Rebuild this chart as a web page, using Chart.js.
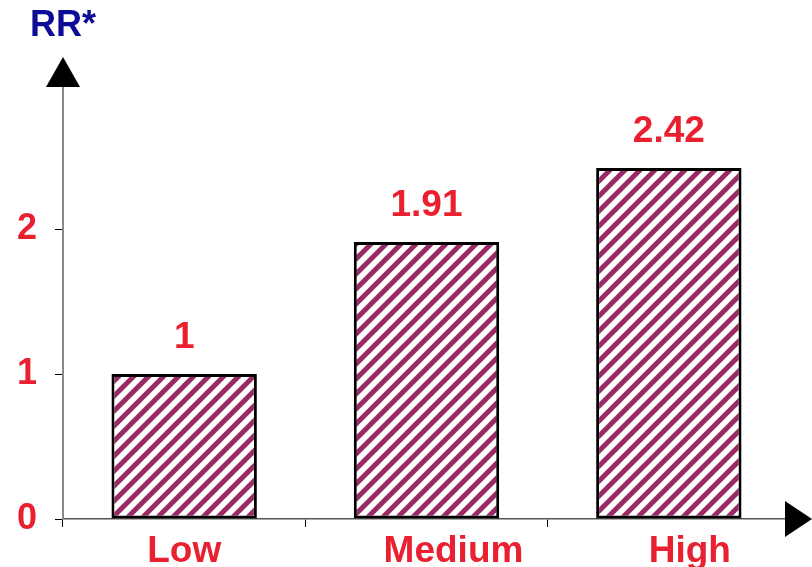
<!DOCTYPE html>
<html>
<head>
<meta charset="utf-8">
<script src="https://cdn.jsdelivr.net/npm/chart.js@4/dist/chart.umd.min.js"></script>
<style>
  body { margin: 0; background: #fff; }
  #wrap { width: 812px; height: 567px; }
</style>
</head>
<body>
<div id="wrap"><canvas id="myChart" width="812" height="567"></canvas></div>
<script>
/* Donnees du graphique */
var categories = ['Low', 'Medium', 'High'];
var rrValues = [1, 1.91, 2.42];
var valueLabels = ['1', '1.91', '2.42'];
var yTicks = [0, 1, 2];
var yMax = 3;
var axisTitle = 'RR*';

var RED = 'rgb(232, 32, 48)';
var BLUE = 'rgb(12, 12, 150)';
var STRIPE = 'rgb(152, 42, 102)';
var FONT = '"Liberation Sans", Arial, sans-serif';
// decalage horizontal des libelles de categories (comme sur l'original)
var labelShift = [0, 27, 21];

/* Motif hachure pour les barres */
function makeHatch() {
  var s = 15;
  var c = document.createElement('canvas');
  c.width = s; c.height = s;
  var g = c.getContext('2d');
  g.fillStyle = '#fff';
  g.fillRect(0, 0, s, s);
  g.strokeStyle = STRIPE;
  g.lineWidth = 5;
  g.beginPath();
  g.moveTo(-s, s); g.lineTo(s, -s);
  g.moveTo(0, s); g.lineTo(s, 0);
  g.moveTo(0, 2 * s); g.lineTo(2 * s, 0);
  g.stroke();
  return g.createPattern(c, 'repeat');
}

/* Fleches des axes, titre, libelles et valeurs au dessus des barres */
var decorations = {
  id: 'decorations',
  afterDraw: function(chart) {
    var ctx = chart.ctx;
    var area = chart.chartArea;
    var xScale = chart.scales.x;
    ctx.save();
    ctx.fillStyle = '#000';
    // fleche verticale
    ctx.beginPath();
    ctx.moveTo(area.left, area.top - 27);
    ctx.lineTo(area.left - 17, area.top + 3);
    ctx.lineTo(area.left + 17, area.top + 3);
    ctx.closePath();
    ctx.fill();
    // fleche horizontale
    ctx.beginPath();
    ctx.moveTo(area.right + 22, area.bottom);
    ctx.lineTo(area.right - 5, area.bottom - 18);
    ctx.lineTo(area.right - 5, area.bottom + 18);
    ctx.closePath();
    ctx.fill();
    // titre de l'axe
    ctx.font = 'bold 36px ' + FONT;
    ctx.fillStyle = BLUE;
    ctx.textAlign = 'center';
    ctx.textBaseline = 'middle';
    ctx.fillText(axisTitle, area.left, area.top - 58);
    // valeurs
    ctx.font = 'bold 37px ' + FONT;
    ctx.fillStyle = RED;
    var meta = chart.getDatasetMeta(0);
    meta.data.forEach(function(bar, i) {
      ctx.fillText(valueLabels[i], bar.x, bar.y - 36);
    });
    // libelles des categories
    ctx.textBaseline = 'alphabetic';
    categories.forEach(function(lab, i) {
      ctx.fillText(lab, xScale.getPixelForValue(i) + labelShift[i], area.bottom + 43);
    });
    ctx.restore();
  }
};

var ctx_1 = document.getElementById('myChart').getContext('2d');
var chart = new Chart(ctx_1, {
  type: 'bar',
  data: {
    labels: categories,
    datasets: [{
      data: rrValues,
      backgroundColor: makeHatch(),
      borderColor: '#000',
      borderWidth: 3,
      borderSkipped: false,
      categoryPercentage: 1,
      barPercentage: 0.6
    }]
  },
  options: {
    responsive: false,
    animation: false,
    layout: { padding: { left: 0, right: 22, top: 84, bottom: 0 } },
    plugins: {
      legend: { display: false },
      tooltip: { enabled: false }
    },
    scales: {
      x: {
        afterFit: function(scale) { scale.height = 48; },
        grid: {
          offset: true,
          drawOnChartArea: false,
          drawTicks: true,
          tickLength: 8,
          color: '#000',
          lineWidth: 1
        },
        border: { color: '#555', width: 1.5 },
        ticks: { display: false }
      },
      y: {
        min: 0,
        max: yMax,
        afterFit: function(scale) { scale.width = 63; },
        afterBuildTicks: function(scale) {
          scale.ticks = yTicks.map(function(v) { return { value: v }; });
        },
        grid: {
          drawOnChartArea: false,
          drawTicks: true,
          tickLength: 8,
          color: '#000',
          lineWidth: 1
        },
        border: { color: '#888', width: 2 },
        ticks: {
          color: RED,
          padding: 18,
          font: { family: FONT, size: 36, weight: 'bold' }
        }
      }
    }
  },
  plugins: [decorations]
});
</script>
</body>
</html>
